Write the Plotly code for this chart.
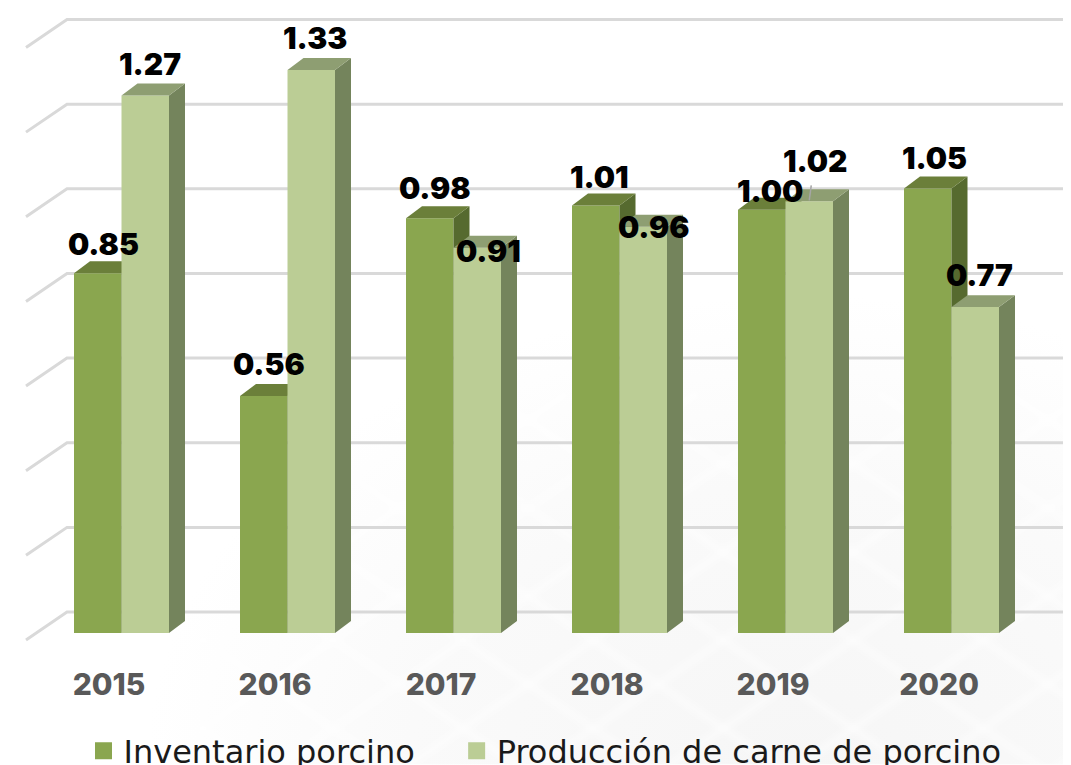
import base64
import plotly.graph_objects as go

years = ["2015", "2016", "2017", "2018", "2019", "2020"]
inventario = [0.85, 0.56, 0.98, 1.01, 1.00, 1.05]
produccion = [1.27, 1.33, 0.91, 0.96, 1.02, 0.77]
grid_values = [0, 0.2, 0.4, 0.6, 0.8, 1.0, 1.2, 1.4]
series_names = ["Inventario porcino", "Producción de carne de porcino"]

# geometry helpers: the page's body margin puts the figure at (8, 8)
PAGE = 8
W, H = 1071 - PAGE, 765 - PAGE
PX_X, PX_Y = 166.0, 423.5
BELOW = 20
X0_PX, Y0_PX = 121.5 - PAGE, 633.4 - PAGE
x_range = [-X0_PX / PX_X, (W - X0_PX) / PX_X]
y_range = [-BELOW / PX_Y, Y0_PX / PX_Y]
PLOT_H = Y0_PX + BELOW
BW = 47.5 / PX_X
DX, DY = 16 / PX_X, 12 / PX_Y

DARK = "#8aa64f"; DARK_TOP = "#6b7f3a"; DARK_SIDE = "#566a2f"
LIGHT = "#bbcd95"; LIGHT_TOP = "#8e9e72"; LIGHT_SIDE = "#74845c"
FONT = "Inter"

# faint paper texture in the lower right of the page
lines = ""
for k in range(-6, 14):
    c = 130 * k
    lines += f'<line x1="{c}" y1="765" x2="{c + 560}" y2="385"/>'
    lines += f'<line x1="{c}" y1="765" x2="{c - 560}" y2="385"/>'
svg = (f'<svg xmlns="http://www.w3.org/2000/svg" width="{W}" height="{H}">'
       '<defs><radialGradient id="g" cx="75%" cy="100%" r="62%">'
       '<stop offset="0" stop-color="#f6f6f6"/><stop offset="0.6" stop-color="#fafafa"/>'
       '<stop offset="1" stop-color="#ffffff"/></radialGradient>'
       '<filter id="b"><feGaussianBlur stdDeviation="3"/></filter></defs>'
       f'<rect width="{W}" height="{H}" fill="url(#g)"/>'
       f'<g stroke="#ffffff" stroke-width="6" stroke-opacity="0.5" filter="url(#b)">{lines}</g></svg>')
texture = "data:image/svg+xml;base64," + base64.b64encode(svg.encode()).decode()

fig = go.Figure()

# wall grid lines
GRID_FRONT_X = -95.5 / PX_X
GRID_BACK_X = -54.5 / PX_X
GRID_END_X = (1063 - 121.5) / PX_X
gx, gy = [], []
for v in grid_values:
    gx += [GRID_FRONT_X, GRID_BACK_X, GRID_END_X, None]
    gy += [v - 7 / PX_Y, v + 21 / PX_Y, v + 21 / PX_Y, None]
fig.add_trace(go.Scatter(x=gx, y=gy, mode="lines", line=dict(color="#d9d9d9", width=3),
                         cliponaxis=False, hoverinfo="skip", showlegend=False))


def prism(values, x_left):
    top_x, top_y, side_x, side_y = [], [], [], []
    for i, v in enumerate(values):
        a = i + x_left
        b = a + BW
        top_x += [a, b, b + DX, a + DX, a, None]
        top_y += [v, v, v + DY, v + DY, v, None]
        side_x += [b, b + DX, b + DX, b, b, None]
        side_y += [0, DY, v + DY, v, 0, None]
    return top_x, top_y, side_x, side_y


def add_series(values, x_left, color, top, side, axis):
    tx, ty, sx, sy = prism(values, x_left)
    fig.add_trace(go.Bar(x=list(range(len(values))), y=values, width=BW, offset=x_left,
                         marker=dict(color=color, line=dict(width=0)), showlegend=False,
                         xaxis="x" + axis, yaxis="y" + axis))
    for px, py, c in ((sx, sy, side), (tx, ty, top)):
        fig.add_trace(go.Scatter(x=px, y=py, mode="lines", fill="toself", fillcolor=c,
                                 line=dict(width=0), hoverinfo="skip", showlegend=False,
                                 cliponaxis=False, xaxis="x" + axis, yaxis="y" + axis))


add_series(inventario, -BW, DARK, DARK_TOP, DARK_SIDE, "2")
add_series(produccion, 0, LIGHT, LIGHT_TOP, LIGHT_SIDE, "3")

# legend entries (non-breaking spaces widen the gap between the two entries)
for name, c, pad in ((series_names[0], DARK, "\u00a0\u00a0\u00a0\u2009"), (series_names[1], LIGHT, "")):
    fig.add_trace(go.Bar(x=[None], y=[None], name=name + pad,
                         marker=dict(color=c, line=dict(color=c, width=5))))

# data labels: (x shift, y shift) in px relative to the bar's top-centre
dark_shift = [(6, 29), (5, 32), (5, 30), (4, 29), (8, 19), (7, 31)]
light_shift = [(5, 32), (4, 32), (11, -3), (11, 0), (6, 40), (4, 32)]
ann = []
for vals, sh, off in ((inventario, dark_shift, -BW / 2), (produccion, light_shift, BW / 2)):
    for i, v in enumerate(vals):
        ann.append(dict(x=i + off, y=v, xref="x", yref="y", text=f"{v:.2f}", showarrow=False,
                        xanchor="center", yanchor="middle", xshift=sh[i][0], yshift=sh[i][1],
                        font=dict(family=FONT, size=30, color="#000000", weight=900)))

axis_hidden = dict(range=x_range, visible=False, fixedrange=True)
fig.update_layout(
    width=W, height=H, margin=dict(l=0, r=0, t=0, b=H - PLOT_H, pad=0, autoexpand=False),
    paper_bgcolor="white", plot_bgcolor="rgba(0,0,0,0)", barmode="overlay", autosize=False,
    xaxis=dict(range=x_range, tickmode="array", tickvals=[i - 0.075 for i in range(6)], ticktext=years,
               showgrid=False, zeroline=False, showline=False, ticks="", ticklabelstandoff=11,
               tickfont=dict(family=FONT, size=30, color="#595959", weight=800), fixedrange=True),
    yaxis=dict(range=y_range, visible=False, fixedrange=True),
    xaxis2=dict(axis_hidden, overlaying="x"), yaxis2=dict(range=y_range, visible=False, overlaying="y", fixedrange=True),
    xaxis3=dict(axis_hidden, overlaying="x"), yaxis3=dict(range=y_range, visible=False, overlaying="y", fixedrange=True),
    showlegend=True,
    legend=dict(orientation="h", x=0.071, xanchor="left", y=-(716 - PLOT_H) / PLOT_H, yanchor="top",
                font=dict(family="DejaVu Sans", size=32, color="#1a1a1a"), bgcolor="rgba(0,0,0,0)"),
    annotations=ann,
    images=[dict(source=texture, xref="paper", yref="paper", x=0, y=1, sizex=1, sizey=H / PLOT_H,
                 xanchor="left", yanchor="top", sizing="stretch", layer="below")],
    shapes=[dict(type="line", xref="x", yref="y", x0=4 + BW / 2 + 2 / PX_X, x1=4 + BW / 2,
                 y0=1.02 + 16 / PX_Y, y1=1.02 + 1 / PX_Y, line=dict(color="#a6a6a6", width=1.5))],
)
fig.write_html("out.html")
